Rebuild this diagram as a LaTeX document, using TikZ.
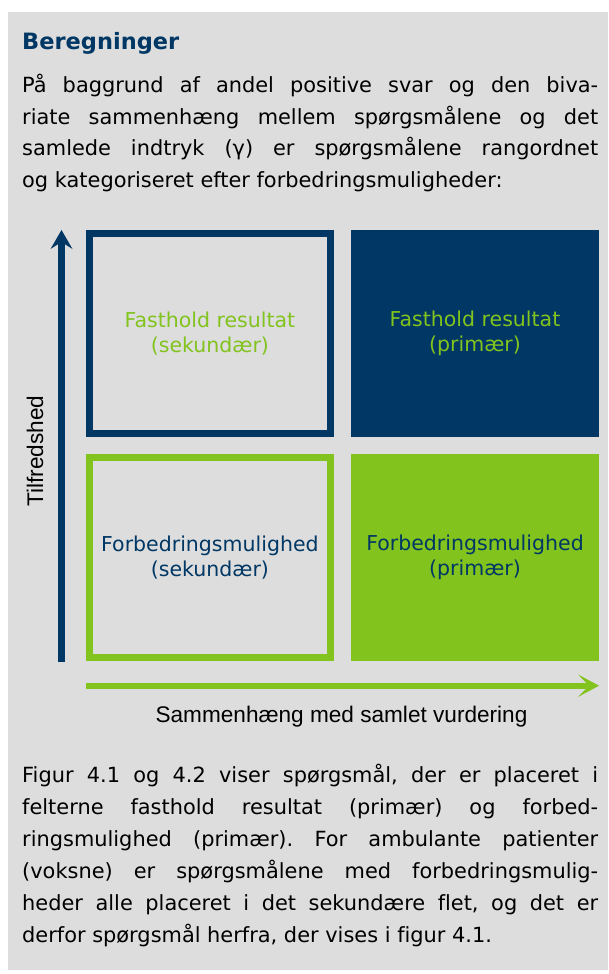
\documentclass[tikz,border=0pt]{standalone}
\usepackage{fontspec}
\setmainfont{DejaVu Sans}[Ligatures=NoCommon]
\newfontfamily\axisfont{Liberation Sans}
\usetikzlibrary{arrows.meta}
\definecolor{dblue}{RGB}{0,55,100}
\definecolor{lgreen}{RGB}{130,195,30}
\definecolor{panel}{RGB}{221,221,221}
\newcommand{\jl}[1]{\makebox[576pt][s]{#1}}
\frenchspacing
\begin{document}
\begin{tikzpicture}[x=1pt,y=-1pt,
  body/.style={anchor=base west, inner sep=0pt, font=\fontsize{20.9}{31.7}\selectfont},
  quadtext/.style={align=center, inner sep=0pt, font=\fontsize{20.5}{25}\selectfont},
  openbox/.style={quadtext, draw=#1, line width=7pt, minimum width=241.3pt, minimum height=200.3pt},
  fullbox/.style={quadtext, fill=#1, minimum width=248pt, minimum height=207.3pt},
  axislabel/.style={anchor=base, inner sep=0pt, font=\axisfont\fontsize{22.6}{27}\selectfont}]
\useasboundingbox (0,0) rectangle (608,974);
\fill[panel] (8,12) rectangle (608,970);

% heading and first paragraph
\node[body, font=\bfseries\fontsize{22.5}{27}\selectfont, text=dblue] (title) at (22,50) {Beregninger};
\node[body] (p1a) at (22,92.5) {\jl{På baggrund af andel positive svar og den biva-}};
\node[body] (p1b) at (22,124.2) {\jl{riate sammenhæng mellem spørgsmålene og det}};
\node[body] (p1c) at (22,155.9) {\jl{samlede indtryk (γ) er spørgsmålene rangordnet}};
\node[body] (p1d) at (22,187.6) {og kategoriseret efter forbedringsmuligheder:};

% quadrants
\node[openbox=dblue, text=lgreen] (tl) at (209.9,333.6) {Fasthold resultat\\(sekundær)};
\node[fullbox=dblue, text=lgreen] (tr) at (475,333.6) {Fasthold resultat\\(primær)};
\node[openbox=lgreen, text=dblue] (bl) at (209.9,557.2) {Forbedringsmulighed\\(sekundær)};
\node[fullbox=lgreen, text=dblue] (br) at (475,557.2) {Forbedringsmulighed\\(primær)};

% axes
\coordinate (ybot) at (61.5,661.5);
\coordinate (ytop) at (61.5,230);
\coordinate (xleft) at (86,685.7);
\coordinate (xright) at (599,685.7);
\draw[dblue, line width=7pt, -{Stealth[length=19pt,width=22pt,inset=7pt,line width=0pt]}] (ybot) -- (ytop);
\draw[lgreen, line width=6pt, -{Stealth[length=21pt,width=22.5pt,inset=11pt,line width=0pt]}] (xleft) -- (xright);
\node[axislabel, rotate=90] (ylab) at (43,451) {Tilfredshed};
\node[axislabel] (xlab) at (341.5,722.7) {Sammenhæng med samlet vurdering};

% second paragraph
\node[body] (p2a) at (22,782) {\jl{Figur 4.1 og 4.2 viser spørgsmål, der er placeret i}};
\node[body] (p2b) at (22,814) {\jl{felterne fasthold resultat (primær) og forbed-}};
\node[body] (p2c) at (22,846) {\jl{ringsmulighed (primær). For ambulante patienter}};
\node[body] (p2d) at (22,878) {\jl{(voksne) er spørgsmålene med forbedringsmulig-}};
\node[body] (p2e) at (22,910) {\jl{heder alle placeret i det sekundære flet, og det er}};
\node[body] (p2f) at (22,942) {derfor spørgsmål herfra, der vises i figur 4.1.};
\end{tikzpicture}
\end{document}
